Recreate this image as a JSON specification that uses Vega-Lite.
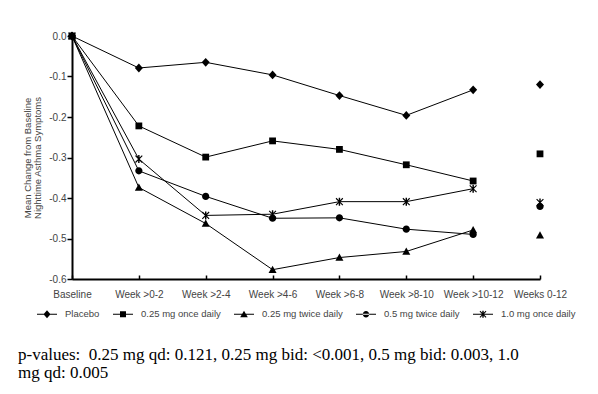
{
  "$schema": "https://vega.github.io/schema/vega-lite/v6.json",
  "width": 468,
  "height": 243,
  "autosize": {"type": "none"},
  "padding": {"left": 72, "top": 36, "right": 58, "bottom": 115},
  "background": "white",
  "config": {
    "view": {"stroke": null},
    "font": "Liberation Sans",
    "axis": {"grid": false, "domainColor": "black", "domainWidth": 2, "tickColor": "black", "tickWidth": 1.5, "labelColor": "#444", "titleColor": "#444", "labelFont": "Liberation Sans", "titleFont": "Liberation Sans"}
  },
  "title": {
    "text": ["p-values: \u00a00.25 mg qd: 0.121, 0.25 mg bid: <0.001, 0.5 mg bid: 0.003, 1.0", "mg qd: 0.005"],
    "orient": "bottom",
    "anchor": "start",
    "frame": "group",
    "font": "Liberation Serif",
    "fontSize": 17,
    "fontWeight": "normal",
    "color": "black",
    "lineHeight": 18,
    "dx": -54,
    "offset": 28
  },
  "data": {
    "values": [
      {"s": "Placebo", "w": "Baseline", "t": 0, "v": 0},
      {"s": "Placebo", "w": "Week >0-2", "t": 1, "v": -0.079},
      {"s": "Placebo", "w": "Week >2-4", "t": 2, "v": -0.065},
      {"s": "Placebo", "w": "Week >4-6", "t": 3, "v": -0.096},
      {"s": "Placebo", "w": "Week >6-8", "t": 4, "v": -0.147},
      {"s": "Placebo", "w": "Week >8-10", "t": 5, "v": -0.196},
      {"s": "Placebo", "w": "Week >10-12", "t": 6, "v": -0.133},
      {"s": "Placebo", "w": "Weeks 0-12", "t": 7, "v": -0.12},
      {"s": "0.25 mg once daily", "w": "Baseline", "t": 0, "v": 0},
      {"s": "0.25 mg once daily", "w": "Week >0-2", "t": 1, "v": -0.222},
      {"s": "0.25 mg once daily", "w": "Week >2-4", "t": 2, "v": -0.299},
      {"s": "0.25 mg once daily", "w": "Week >4-6", "t": 3, "v": -0.259},
      {"s": "0.25 mg once daily", "w": "Week >6-8", "t": 4, "v": -0.28},
      {"s": "0.25 mg once daily", "w": "Week >8-10", "t": 5, "v": -0.318},
      {"s": "0.25 mg once daily", "w": "Week >10-12", "t": 6, "v": -0.358},
      {"s": "0.25 mg once daily", "w": "Weeks 0-12", "t": 7, "v": -0.291},
      {"s": "0.25 mg twice daily", "w": "Baseline", "t": 0, "v": 0},
      {"s": "0.25 mg twice daily", "w": "Week >0-2", "t": 1, "v": -0.374},
      {"s": "0.25 mg twice daily", "w": "Week >2-4", "t": 2, "v": -0.463},
      {"s": "0.25 mg twice daily", "w": "Week >4-6", "t": 3, "v": -0.577},
      {"s": "0.25 mg twice daily", "w": "Week >6-8", "t": 4, "v": -0.547},
      {"s": "0.25 mg twice daily", "w": "Week >8-10", "t": 5, "v": -0.532},
      {"s": "0.25 mg twice daily", "w": "Week >10-12", "t": 6, "v": -0.479},
      {"s": "0.25 mg twice daily", "w": "Weeks 0-12", "t": 7, "v": -0.492},
      {"s": "0.5 mg twice daily", "w": "Baseline", "t": 0, "v": 0},
      {"s": "0.5 mg twice daily", "w": "Week >0-2", "t": 1, "v": -0.333},
      {"s": "0.5 mg twice daily", "w": "Week >2-4", "t": 2, "v": -0.396},
      {"s": "0.5 mg twice daily", "w": "Week >4-6", "t": 3, "v": -0.45},
      {"s": "0.5 mg twice daily", "w": "Week >6-8", "t": 4, "v": -0.449},
      {"s": "0.5 mg twice daily", "w": "Week >8-10", "t": 5, "v": -0.477},
      {"s": "0.5 mg twice daily", "w": "Week >10-12", "t": 6, "v": -0.49},
      {"s": "0.5 mg twice daily", "w": "Weeks 0-12", "t": 7, "v": -0.421},
      {"s": "1.0 mg once daily", "w": "Baseline", "t": 0, "v": 0},
      {"s": "1.0 mg once daily", "w": "Week >0-2", "t": 1, "v": -0.304},
      {"s": "1.0 mg once daily", "w": "Week >2-4", "t": 2, "v": -0.443},
      {"s": "1.0 mg once daily", "w": "Week >4-6", "t": 3, "v": -0.44},
      {"s": "1.0 mg once daily", "w": "Week >6-8", "t": 4, "v": -0.409},
      {"s": "1.0 mg once daily", "w": "Week >8-10", "t": 5, "v": -0.409},
      {"s": "1.0 mg once daily", "w": "Week >10-12", "t": 6, "v": -0.377},
      {"s": "1.0 mg once daily", "w": "Weeks 0-12", "t": 7, "v": -0.411}
    ]
  },
  "encoding": {
    "x": {
      "field": "w", "type": "ordinal",
      "scale": {"type": "point", "padding": 0, "domain": ["Baseline", "Week >0-2", "Week >2-4", "Week >4-6", "Week >6-8", "Week >8-10", "Week >10-12", "Weeks 0-12"]},
      "axis": {"title": null, "labelAngle": 0, "labelFontSize": 10, "tickSize": -4, "labelPadding": 14}
    },
    "y": {
      "field": "v", "type": "quantitative",
      "scale": {"domain": [-0.6, 0], "nice": false, "zero": false},
      "axis": {
        "title": ["Mean Change from Baseline", "Nighttime Asthma Symptoms"],
        "titleFontSize": 9.5, "titleFontWeight": "normal", "titleLineHeight": 10.5, "titlePadding": 6,
        "values": [0, -0.1, -0.2, -0.3, -0.4, -0.5, -0.6],
        "labelExpr": "replace(format(datum.value, '.1f'), '\u2212', '-')",
        "labelFontSize": 10, "tickSize": 5, "labelPadding": 1
      }
    }
  },
  "layer": [
    {
      "transform": [{"filter": "datum.t < 7"}],
      "mark": {"type": "line", "color": "black", "strokeWidth": 1, "clip": false},
      "encoding": {"detail": {"field": "s"}, "order": {"field": "t", "type": "quantitative"}}
    },
    {
      "mark": {"type": "point", "filled": true, "color": "black", "opacity": 1, "size": 64, "strokeWidth": 0, "clip": false},
      "encoding": {
        "shape": {
          "field": "s", "type": "nominal",
          "scale": {
            "domain": ["Placebo", "0.25 mg once daily", "0.25 mg twice daily", "0.5 mg twice daily", "1.0 mg once daily"],
            "range": [
              "M0,-1.1L1,0L0,1.1L-1,0Z",
              "M-0.85,-0.85H0.85V0.85H-0.85Z",
              "M0,-1L1,0.8H-1Z",
              "M-0.9,0A0.9,0.9 0 1,0 0.9,0A0.9,0.9 0 1,0 -0.9,0Z",
              "M-0.18,-1H0.18V1H-0.18Z M-0.95,-0.75L-0.75,-0.95L0.95,0.75L0.75,0.95Z M0.75,-0.95L0.95,-0.75L-0.75,0.95L-0.95,0.75Z"
            ]
          },
          "legend": null
        }
      }
    },
    {
      "transform": [{"filter": "datum.t == 0"}],
      "mark": {"type": "point", "filled": true, "color": "black", "opacity": 0, "size": 400, "strokeWidth": 0, "clip": false},
      "encoding": {
        "shape": {
          "field": "s", "type": "nominal",
          "scale": {
            "domain": ["Placebo", "0.25 mg once daily", "0.25 mg twice daily", "0.5 mg twice daily", "1.0 mg once daily"],
            "range": [
              "M-1,-0.05H1V0.05H-1Z M0,-0.4L0.35,0L0,0.4L-0.35,0Z",
              "M-1,-0.05H1V0.05H-1Z M-0.3,-0.3H0.3V0.3H-0.3Z",
              "M-1,-0.05H1V0.05H-1Z M0,-0.35L0.38,0.3H-0.38Z",
              "M-1,-0.05H1V0.05H-1Z M-0.32,0A0.32,0.32 0 1,0 0.32,0A0.32,0.32 0 1,0 -0.32,0Z",
              "M-1,-0.05H1V0.05H-1Z M-0.07,-0.36H0.07V0.36H-0.07Z M-0.34,-0.27L-0.27,-0.34L0.34,0.27L0.27,0.34Z M0.27,-0.34L0.34,-0.27L-0.27,0.34L-0.34,0.27Z"
            ]
          },
          "legend": {
            "title": null, "orient": "none", "legendX": -35, "legendY": 268,
            "direction": "horizontal", "columns": 5, "columnPadding": 13,
            "symbolSize": 400, "symbolOpacity": 1, "symbolFillColor": "black", "symbolStrokeWidth": 0,
            "labelFontSize": 9.5, "labelColor": "#444", "labelOffset": 8, "labelFont": "Liberation Sans"
          }
        }
      }
    }
  ],
  "resolve": {"scale": {"shape": "independent"}}
}
